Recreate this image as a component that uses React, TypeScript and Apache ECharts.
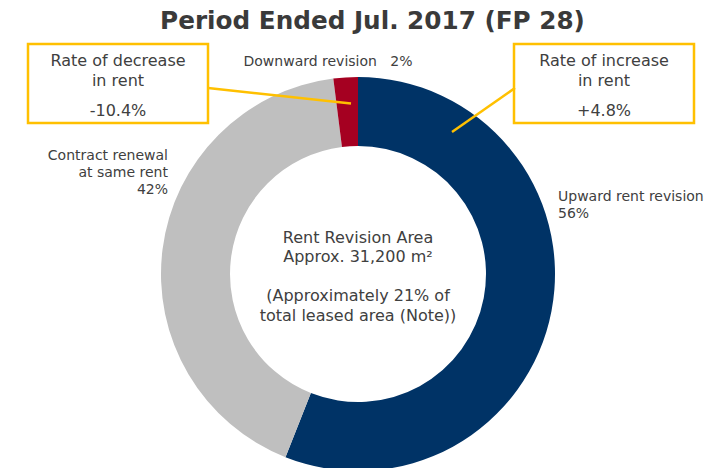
import React, { useEffect, useRef } from "react";
import * as echarts from "echarts";

const titleText = "Period Ended Jul. 2017 (FP 28)";
const categories = ["Upward rent revision", "Contract renewal\nat same rent", "Downward revision"];
const shares = [56, 42, 2];
const sliceColors = ["#003366", "#BFBFBF", "#A50021"];
const centerLines = ["Rent Revision Area", "Approx. 31,200 m²", "", "(Approximately 21% of", "total leased area (Note))"];
const decreaseLabel = ["Rate of decrease", "in rent"];
const decreaseValue = "-10.4%";
const increaseLabel = ["Rate of increase", "in rent"];
const increaseValue = "+4.8%";

const FONT = "'DejaVu Sans', Verdana, sans-serif";
const TEXT = "#404040";
const YELLOW = "#FFC000";

export default function App() {
  const ref = useRef<HTMLDivElement>(null);
  useEffect(() => {
    if (!ref.current) return;
    const chart = echarts.init(ref.current, undefined, { renderer: "svg" });
    const labelPlaces = [
      { x: 558, y: 204, align: "left", verticalAlign: "middle" },
      { x: 168, y: 171.5, align: "right", verticalAlign: "middle" },
      { x: 328, y: 61, align: "center", verticalAlign: "middle" },
    ];
    const option: any = {
      animation: false,
      backgroundColor: "#ffffff",
      title: {
        text: titleText,
        left: 372.5,
        top: 20,
        textAlign: "center",
        textVerticalAlign: "middle",
        padding: 0,
        textStyle: { fontFamily: FONT, fontSize: 24.7, fontWeight: "bold", color: "#3a3a3a" },
      },
      series: [
        {
          type: "pie",
          center: [358, 274],
          radius: [128, 197],
          startAngle: 90,
          clockwise: true,
          avoidLabelOverlap: false,
          itemStyle: { borderWidth: 0 },
          label: {
            show: true,
            position: "outside",
            fontFamily: FONT,
            fontSize: 14,
            color: TEXT,
            lineHeight: 17,
            formatter: (p: any) =>
              p.dataIndex === 2 ? `${p.name}   ${p.value}%` : `${p.name}\n${p.value}%`,
          },
          labelLine: { show: false },
          labelLayout: (p: any) => labelPlaces[p.dataIndex],
          emphasis: { disabled: true },
          data: categories.map((name, i) => ({
            name,
            value: shares[i],
            itemStyle: { color: sliceColors[i] },
          })),
        },
      ],
      graphic: [
        {
          type: "text",
          z: 100,
          x: 358,
          y: 276,
          style: {
            text: centerLines.join("\n"),
            textAlign: "center",
            textVerticalAlign: "middle",
            fontFamily: FONT,
            fontSize: 16,
            lineHeight: 19.5,
            fill: TEXT,
          },
        },
        {
          type: "rect",
          z: 100,
          shape: { x: 28, y: 44, width: 180, height: 79 },
          style: { fill: "#ffffff", stroke: YELLOW, lineWidth: 2.5 },
        },
        {
          type: "text",
          z: 101,
          x: 118,
          y: 70,
          style: {
            text: decreaseLabel.join("\n"),
            textAlign: "center",
            textVerticalAlign: "middle",
            fontFamily: FONT,
            fontSize: 16,
            lineHeight: 20,
            fill: TEXT,
          },
        },
        {
          type: "text",
          z: 101,
          x: 118,
          y: 110,
          style: {
            text: decreaseValue,
            textAlign: "center",
            textVerticalAlign: "middle",
            fontFamily: FONT,
            fontSize: 16,
            fill: TEXT,
          },
        },
        {
          type: "rect",
          z: 100,
          shape: { x: 514, y: 44, width: 180, height: 79 },
          style: { fill: "#ffffff", stroke: YELLOW, lineWidth: 2.5 },
        },
        {
          type: "text",
          z: 101,
          x: 604,
          y: 70,
          style: {
            text: increaseLabel.join("\n"),
            textAlign: "center",
            textVerticalAlign: "middle",
            fontFamily: FONT,
            fontSize: 16,
            lineHeight: 20,
            fill: TEXT,
          },
        },
        {
          type: "text",
          z: 101,
          x: 604,
          y: 110,
          style: {
            text: increaseValue,
            textAlign: "center",
            textVerticalAlign: "middle",
            fontFamily: FONT,
            fontSize: 16,
            fill: TEXT,
          },
        },
        {
          type: "line",
          z: 102,
          shape: { x1: 208, y1: 88, x2: 351, y2: 103.5 },
          style: { stroke: YELLOW, lineWidth: 2.5 },
        },
        {
          type: "line",
          z: 102,
          shape: { x1: 515, y1: 88, x2: 452, y2: 132 },
          style: { stroke: YELLOW, lineWidth: 2.5 },
        },
      ],
    };
    chart.setOption(option);
    return () => chart.dispose();
  }, []);
  return (
    <div
      ref={ref}
      style={{ position: "absolute", left: 0, top: 0, width: 715, height: 468 }}
    />
  );
}
